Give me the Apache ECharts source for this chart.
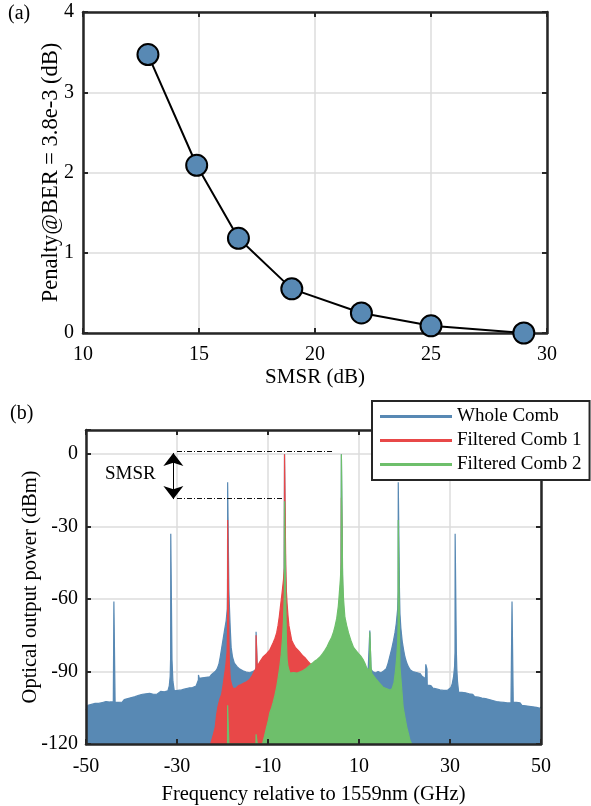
<!DOCTYPE html>
<html>
<head>
<meta charset="utf-8">
<script src="https://cdn.jsdelivr.net/npm/echarts@6/dist/echarts.min.js"></script>
<style>
html, body { margin: 0; padding: 0; background: #fff; }
#chart { width: 591px; height: 806px; }
</style>
</head>
<body>
<div id="chart"></div>
<script>
// (a) penalty vs SMSR
var smsr = [12.8, 14.9, 16.7, 19.0, 22.0, 25.0, 29.0];
var penalty = [3.47, 2.09, 1.18, 0.55, 0.25, 0.09, 0.0];

// (b) spectra, [GHz, dBm]
var wholeComb = [
  [-50,-106],[-49.6,-104],[-49.2,-104.6],[-48.8,-103.6],[-48.4,-104.4],[-48,-103.2],[-47.6,-104],[-47.2,-103.2],
  [-46.8,-104],[-46.4,-102.8],[-46,-103.6],[-45.6,-102.4],[-45.2,-103.2],[-44.8,-102.6],[-44.4,-103.2],[-44,-102.6],
  [-43.9,-102.8],[-43.87,-61],[-43.63,-61],[-43.6,-102.8],
  [-43.2,-102.2],[-42.8,-102.8],[-42.4,-102],[-42,-102.6],[-41.6,-101.6],[-41.2,-102.2],[-40.8,-101.2],[-40.4,-101.8],
  [-40,-100.8],[-39.6,-101.4],[-39.2,-100.4],[-38.8,-101],[-38.4,-99.8],[-38,-100.6],[-37.6,-99.4],[-37.2,-100.2],
  [-36.8,-99.2],[-36.4,-99.8],[-36,-99],[-35.6,-98.6],[-35.2,-99.4],[-34.8,-98.6],[-34.4,-99.4],[-34,-98.8],
  [-33.6,-98.2],[-33.2,-99],[-32.8,-98.4],[-32.4,-98.8],[-32,-98],
  [-31.7,-96],[-31.5,-92],[-31.4,-84],[-31.37,-33],[-31.13,-33],[-31.1,-85],[-30.9,-94],[-30.6,-98],
  [-30.2,-98.4],[-29.8,-97.8],[-29.4,-98.4],[-29,-97.6],[-28.6,-98],[-28.2,-97.2],[-27.8,-97.8],[-27.4,-96.8],
  [-27,-97.4],[-26.6,-96.6],[-26.2,-97],[-25.8,-96],[-25.5,-95.4],
  [-25.3,-93.5],[-25.28,-91.4],[-25.12,-91.4],[-25.1,-92.8],[-24.8,-93.2],[-24.4,-92.6],[-24,-93.2],[-23.6,-92.4],
  [-23.2,-91.8],[-22.8,-92.2],[-22.4,-91.2],[-22,-90.8],[-21.6,-90],[-21.2,-89],[-20.8,-87],[-20.5,-84],
  [-20.2,-80.5],[-19.9,-77],[-19.6,-73.5],[-19.2,-69],[-18.95,-64],[-18.9,-56],[-18.87,-11.6],[-18.63,-11.6],
  [-18.6,-56],[-18.5,-62],[-18.3,-72],[-18.1,-80],[-17.8,-84],[-17.4,-86.5],[-16.8,-88],[-16.2,-89],
  [-15.5,-89.7],[-14.8,-90.2],[-14,-90.5],[-13.4,-90],[-12.7,-89.4],[-12.64,-88],[-12.62,-73.5],[-12.38,-73.5],
  [-12.36,-88],[-12,-89.6],[-10,-89.4],[-8,-88],[-7,-85],[-6.5,-75],[-6.37,0],[-6.13,0],[-6,-75],[-5.5,-85],
  [-4,-88],[-2,-87.4],[0,-87],[2,-87.4],[4,-88],[5.5,-85],[6,-75],[6.13,0],[6.37,0],[6.5,-75],[7,-85],[8,-88],
  [10,-89.4],[12,-89.8],[12.36,-89],[12.38,-73],[12.62,-73],[12.64,-89],
  [13,-90],[13.6,-90.6],[14.2,-90],[14.8,-90.6],[15.4,-89.8],[16,-88.8],[16.4,-86.5],[16.8,-83.5],[17.2,-80.5],
  [17.6,-77],[17.9,-74],[18.2,-70],[18.5,-64],[18.6,-57],[18.63,-11.6],[18.87,-11.6],[18.9,-57],[19.0,-66],
  [19.2,-72],[19.5,-77.5],[19.8,-81],[20.1,-84],[20.5,-86.5],[20.9,-88.2],[21.3,-89.4],[21.8,-90],[22.2,-90.8],
  [22.6,-90.4],[23,-91.2],[23.4,-90.8],[23.8,-91.8],[24.2,-92.4],[24.6,-93],[24.66,-89],[24.68,-87],[24.92,-87],
  [24.94,-89],[25.0,-95.6],[25.4,-96.4],[25.8,-95.8],[26.2,-96.8],[26.6,-96.2],[27,-97.2],[27.4,-96.6],
  [27.8,-97.6],[28.2,-97],[28.6,-97.8],[29,-97.2],[29.4,-97.8],[29.8,-97.2],[30.2,-96.6],[30.5,-95],[30.8,-92],
  [31.0,-88],[31.1,-82],[31.13,-33],[31.37,-33],[31.4,-82],[31.5,-89],[31.65,-94],[31.9,-98.6],[32.2,-99.2],
  [32.6,-98.6],[33,-99.4],[33.4,-98.8],[33.8,-99.6],[34.2,-99.2],[34.6,-100],[35,-99.4],[35.4,-100.4],
  [35.8,-99.8],[36.2,-100.6],[36.6,-100],[37,-101],[37.4,-100.4],[37.8,-101.2],[38.2,-100.8],[38.6,-101.6],
  [39,-101],[39.4,-102],[39.8,-101.4],[40.2,-102.4],[40.6,-101.8],[41,-102.6],[41.4,-102],[41.8,-102.8],
  [42.2,-102.2],[42.6,-103],[43,-102.4],[43.4,-103],[43.6,-102.8],[43.63,-61],[43.87,-61],[43.9,-102.8],
  [44.2,-103.4],[44.6,-102.8],[45,-103.6],[45.4,-103],[45.8,-104],[46.2,-103.2],[46.6,-104.2],[47,-103.4],
  [47.4,-104.4],[47.8,-103.6],[48.2,-104.6],[48.6,-103.8],[49,-104.8],[49.4,-104],[49.8,-105.2],[50,-104.6]
];

var filteredComb1 = [
  [-22.6,-120],[-22.3,-118],[-22,-116],[-21.6,-113],[-21.3,-108],[-21,-104.5],[-20.6,-101.5],[-20.2,-99.5],
  [-19.9,-96],[-19.6,-92],[-19.3,-88],[-19.0,-82],[-18.9,-74],[-18.87,-27.3],[-18.63,-27.3],[-18.6,-76],
  [-18.5,-86],[-18.3,-93],[-18.0,-95.5],[-17.7,-97],[-17.4,-96.2],[-17.1,-97],[-16.8,-96.4],[-16.5,-95.8],
  [-16.2,-96.2],[-15.9,-95.4],[-15.6,-95.8],[-15.3,-94.8],[-15,-95.2],[-14.7,-94.2],[-14.4,-94.6],[-14.1,-93.4],
  [-13.8,-92.6],[-13.5,-91.8],[-13.2,-90.6],[-12.9,-89.6],[-12.64,-88.6],[-12.62,-75],[-12.38,-75],[-12.36,-88.4],
  [-12.1,-87],[-11.8,-86],[-11.5,-85.2],[-11.1,-84],[-10.7,-83.4],[-10.3,-82.6],[-9.9,-81.8],[-9.6,-81],
  [-9.3,-79.8],[-8.9,-78.2],[-8.5,-76.4],[-8.1,-74],[-7.8,-71],[-7.5,-67],[-7.2,-62],[-7,-59],[-6.8,-55.5],
  [-6.6,-52],[-6.4,-47],[-6.37,0],[-6.13,0],[-6.1,-46],[-5.95,-57],[-5.8,-62],[-5.6,-67],[-5.4,-71],
  [-5.1,-74],[-4.8,-77],[-4.4,-78.6],[-4,-80],[-3.6,-80.8],[-3.2,-81.6],[-2.8,-82.4],[-2.3,-83.6],[-1.8,-84.4],
  [-1.3,-85.6],[-0.8,-86.6],[-0.3,-87.6],[0.3,-89],[1,-91],[2,-94],[3,-97],[4,-100],[5,-104],[5.75,-108],
  [5.78,-96.5],[5.84,-96.5],[5.87,-108],[6.1,-60],[6.13,-18],[6.37,-18],[6.4,-60],[6.6,-108],[7,-110],
  [8,-113],[9,-116],[10,-118],[11,-120]
];

var filteredComb2 = [
  [-18.9,-120],[-18.87,-104],[-18.63,-104],[-18.6,-120],
  [-12.65,-120],[-12.62,-116],[-12.38,-116],[-12.35,-120],
  [-11.2,-120],[-10.8,-117],[-10.3,-113],[-9.9,-110],[-9.6,-107],[-9.2,-105],[-8.9,-103],[-8.5,-100],
  [-8.1,-96.5],[-7.8,-93],[-7.4,-88],[-7.1,-83],[-6.8,-76],[-6.6,-69],[-6.4,-57],[-6.37,-19.5],[-6.13,-19.5],
  [-6.1,-60],[-5.95,-78],[-5.8,-85],[-5.6,-88],[-5.2,-90.6],[-4.8,-91],[-4.4,-90.4],[-4,-91.2],
  [-3.6,-90.6],[-3.2,-90.8],[-2.8,-90],[-2.3,-89.6],[-1.8,-89],[-1.3,-88.2],[-0.8,-87.4],[-0.3,-86.6],
  [0.3,-85.6],[0.8,-85],[1.4,-84],[2,-82.6],[2.5,-81.2],[2.9,-80],[3.4,-78],[4,-75.8],[4.4,-73.6],[4.7,-71.5],
  [5.1,-68],[5.45,-63],[5.7,-57],[5.9,-52],[6.1,-45],[6.13,0],[6.37,0],[6.4,-50],[6.6,-60],
  [6.9,-67.5],[7.3,-71],[7.7,-74],[8.2,-77],[8.8,-80],[9.4,-81.4],[9.9,-82.6],[10.4,-83.6],[10.9,-85],
  [11.3,-86.6],[11.7,-88.5],[12.1,-89.6],[12.36,-88],[12.38,-73.7],[12.62,-73.7],[12.64,-88],[12.8,-90.7],
  [13.3,-92],[13.9,-93.5],[14.6,-95],[15.3,-96.5],[16,-97],[16.8,-97.7],[17.3,-97],[17.7,-94.5],[18.0,-90],
  [18.3,-84],[18.5,-78],[18.6,-70],[18.63,-27.3],[18.87,-27.3],[18.9,-74],[19.0,-88],[19.3,-95],
  [19.7,-104.7],[20.1,-109],[20.5,-113],[20.9,-116],[21.2,-118.5],[21.6,-120]
];

// SMSR annotation: reference levels and arrow position
var smsrTop = 1, smsrBottom = -18.3, smsrArrowX = -30.8;

var FONT = 'Liberation Serif';
var FRAME = '#262626';
var BLUE = '#5889b4';
var RED = '#e84848';
var GREEN = '#6ebf6b';

// axis that carries labels, name and grid lines (drawn under the data)
function labelAxis(grid, pos, min, max, interval, name, nameGap, nameSize, margin, fmt) {
    return {
        type: 'value', gridIndex: grid, position: pos, min: min, max: max, interval: interval, z: 0,
        axisLine: {show: false}, axisTick: {show: false},
        splitLine: {show: true, lineStyle: {color: '#dcdcdc', width: 1.5}},
        axisLabel: {fontFamily: FONT, fontSize: 20, color: '#000', margin: margin, formatter: fmt},
        name: name, nameLocation: 'middle', nameGap: nameGap, nameMoveOverlap: false,
        nameTextStyle: {fontFamily: FONT, fontSize: nameSize, color: '#000'}
    };
}
// box edge with inward ticks (drawn over the data)
function frameAxis(grid, pos, min, max, interval) {
    return {
        type: 'value', gridIndex: grid, position: pos, min: min, max: max, interval: interval, z: 5,
        axisLine: {show: true, onZero: false, lineStyle: {color: FRAME, width: 2.5}},
        axisTick: {show: true, inside: true, length: 5, lineStyle: {color: FRAME, width: 2}},
        axisLabel: {show: false}, splitLine: {show: false}
    };
}

function yFmt(v) { return v % 30 === 0 ? String(v) : ''; }

var penaltyData = smsr.map(function (s, i) { return [s, penalty[i]]; });

function spectrum(name, data, color, z) {
    return {
        name: name, type: 'line', xAxisIndex: 3, yAxisIndex: 3, data: data,
        symbol: 'none', showSymbol: false, z: z, silent: true,
        lineStyle: {color: color, width: 1.2}, itemStyle: {color: color},
        areaStyle: {color: color, opacity: 1, origin: 'start'}
    };
}

var greenSeries = spectrum('Filtered Comb 2', filteredComb2, GREEN, 4);
greenSeries.markLine = {
    silent: true, symbol: ['none', 'none'], label: {show: false},
    lineStyle: {color: '#111', width: 1, type: [5, 2, 1, 2]},
    data: [
        [{coord: [-30, smsrTop]}, {coord: [4.3, smsrTop]}],
        [{coord: [-30, smsrBottom]}, {coord: [-6.7, smsrBottom]}],
        [
            {coord: [smsrArrowX, 0.5], symbol: 'arrow', symbolSize: [15, 13], lineStyle: {type: 'solid', color: '#000', width: 1}},
            {coord: [smsrArrowX, smsrBottom - 0.3], symbol: 'arrow', symbolSize: [15, 13]}
        ]
    ]
};

var option = {
    animation: false,
    grid: [
        {left: 83, top: 12, width: 464, height: 321},
        {left: 86, top: 430, width: 455, height: 314}
    ],
    xAxis: [
        labelAxis(0, 'bottom', 10, 30, 5, 'SMSR (dB)', 34, 21, 12),
        frameAxis(0, 'bottom', 10, 30, 5),
        frameAxis(0, 'top', 10, 30, 5),
        labelAxis(1, 'bottom', -50, 50, 20, 'Frequency relative to 1559nm (GHz)', 40, 20.5, 13),
        frameAxis(1, 'bottom', -50, 50, 20),
        frameAxis(1, 'top', -50, 50, 20)
    ],
    yAxis: [
        labelAxis(0, 'left', 0, 4, 1, 'Penalty@BER = 3.8e-3 (dB)', 20, 22.5, 9),
        frameAxis(0, 'left', 0, 4, 1),
        frameAxis(0, 'right', 0, 4, 1),
        labelAxis(1, 'left', -120, 10, 30, 'Optical output power (dBm)', 45, 20.5, 8, yFmt),
        frameAxis(1, 'left', -120, 10, 30),
        frameAxis(1, 'right', -120, 10, 30)
    ],
    legend: {
        data: ['Whole Comb', 'Filtered Comb 1', 'Filtered Comb 2'],
        orient: 'vertical', left: 372, top: 401,
        padding: [6, 8, 6, 8], itemGap: 5, itemWidth: 72, itemHeight: 3, icon: 'rect',
        backgroundColor: '#fff', borderColor: FRAME, borderWidth: 2, borderRadius: 0,
        textStyle: {fontFamily: FONT, fontSize: 19, color: '#000'},
        selectedMode: false, z: 10
    },
    graphic: [
        {type: 'text', left: 8, top: 4, style: {text: '(a)', font: '20px "Liberation Serif"', fill: '#000'}},
        {type: 'text', left: 10, top: 404, style: {text: '(b)', font: '20px "Liberation Serif"', fill: '#000'}},
        {type: 'text', left: 105, top: 465, style: {text: 'SMSR', font: '19px "Liberation Serif"', fill: '#000'}, z: 10}
    ],
    series: [
        {
            name: 'penalty', type: 'line', xAxisIndex: 0, yAxisIndex: 0, data: penaltyData,
            symbol: 'circle', symbolSize: 21, clip: false, z: 6,
            lineStyle: {color: '#000', width: 2},
            itemStyle: {color: BLUE, borderColor: '#000', borderWidth: 2}
        },
        spectrum('Whole Comb', wholeComb, BLUE, 2),
        spectrum('Filtered Comb 1', filteredComb1, RED, 3),
        greenSeries
    ]
};

var myChart = echarts.init(document.getElementById('chart'));
myChart.setOption(option);
</script>
</body>
</html>
